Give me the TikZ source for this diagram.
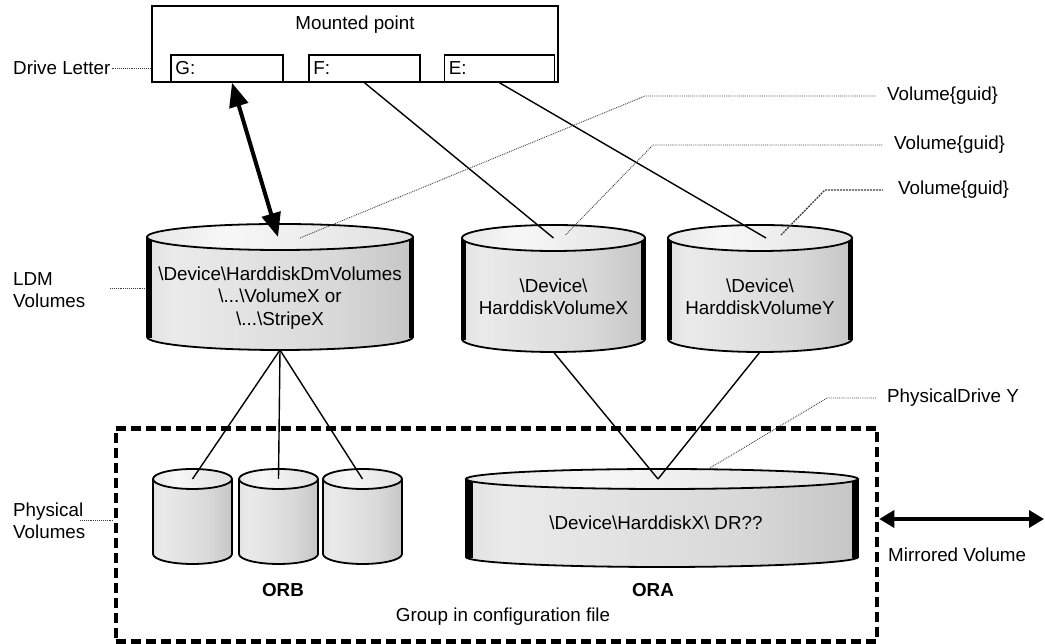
\documentclass[tikz,border=0pt]{standalone}
\usepackage{fontspec}
\setmainfont{Liberation Sans}
\usetikzlibrary{arrows.meta}
\pgfdeclarehorizontalshading{cylbody}{100bp}{color(0bp)=(gray!62); color(30bp)=(gray!16); color(60bp)=(gray!30); color(100bp)=(gray!70)}
\pgfdeclarehorizontalshading{cyltop}{100bp}{color(0bp)=(gray!40); color(40bp)=(gray!6); color(100bp)=(gray!38)}
% #1 name, #2 cx, #3 top-centre y, #4 bottom-centre y, #5 rx, #6 ry, #7 side band width
\newcommand{\drawcyl}[7]{%
  \shade[shading=cylbody] (#2-#5,#3) -- (#2-#5,#4) arc[start angle=180,end angle=360,x radius=#5,y radius=#6] -- (#2+#5,#3) -- cycle;
  \ifdim#7pt>0pt
    \draw[line width=#7pt] (#2-#5+#7/2-0.5,#3) -- (#2-#5+#7/2-0.5,#4-1);
    \draw[line width=#7pt] (#2+#5-#7/2+0.5,#3) -- (#2+#5-#7/2+0.5,#4-1);
  \fi
  \draw[line width=1.8pt] (#2-#5,#3) -- (#2-#5,#4) arc[start angle=180,end angle=360,x radius=#5,y radius=#6] -- (#2+#5,#3);
  \shadedraw[shading=cyltop,line width=1.8pt] (#2,#3) ellipse[x radius=#5,y radius=#6];
  \coordinate (#1-top) at (#2,#3);
  \coordinate (#1-bot) at (#2,#4-#6);
}
\tikzset{
  every node/.style={font=\fontsize{18.8}{22.5}\selectfont, text=black},
  box/.style={draw, line width=1.5pt, inner sep=0pt},
  conn/.style={line width=1.4pt},
  lead/.style={densely dotted, line width=0.9pt, black!75},
  lbl/.style={anchor=west, inner sep=1pt},
  grpbox/.style={draw, line width=4.5pt, dash pattern=on 10pt off 5pt, inner sep=0pt},
  bigarrow/.style={line width=4pt, {Triangle[length=24pt,width=19pt]}-{Triangle[length=24pt,width=19pt]}},
  mirarrow/.style={line width=3.5pt, {Triangle[length=15pt,width=17pt]}-{Triangle[length=15pt,width=17pt]}},
}
\begin{document}
\begin{tikzpicture}[x=1pt,y=1pt]
\useasboundingbox (0,0) rectangle (1045,644);
\fill[white] (0,0) rectangle (1045,644);

% group box
\node[grpbox, minimum width=761pt, minimum height=213pt] (grp) at (496.5,109) {};

% mounted point box
\node[box, minimum width=406pt, minimum height=76pt] (mp) at (355,600) {};
\node (mptxt) at (355,619) {Mounted point};
\node[box, minimum width=112pt, minimum height=27pt] (G) at (227,575.5) {};
\node[box, minimum width=111pt, minimum height=27pt] (F) at (364.5,575.5) {};
\node[box, minimum width=110pt, minimum height=27pt] (E) at (499.5,575.5) {};
\node[lbl] (Gt) at ([xshift=4pt]G.west) {G:};
\node[lbl] (Ft) at ([xshift=4pt]F.west) {F:};
\node[lbl] (Et) at ([xshift=4pt]E.west) {E:};

% left labels
\node[lbl] (dl) at (12,576) {Drive Letter};
\draw[lead] (dl.east) -- (mp.west |- dl.east);
\node[lbl, align=left] (ldm) at (12,354) {LDM\\Volumes};
\draw[lead] (110,356) coordinate (ldmA) -- (147,356) coordinate (ldmB);
\node[lbl, align=left] (pv) at (12,123) {Physical\\Volumes};
\draw[lead] (80,124) coordinate (pvA) -- (grp.west |- pvA);

% cylinders
\drawcyl{ldm}{280}{407}{307}{133}{13}{5}
\drawcyl{hx}{553.5}{406}{305}{91.5}{13}{4.5}
\drawcyl{hy}{760}{406}{305}{92}{13}{4.5}
\drawcyl{p1}{192.5}{165}{90}{39.5}{10}{0}
\drawcyl{p2}{278.5}{165}{90}{39.5}{10}{0}
\drawcyl{p3}{362.5}{165}{90}{39.5}{10}{0}
\drawcyl{ora}{662}{165}{87}{196}{10}{7}

% cylinder texts
\node[align=center] (ldmtxt) at (280,346) {\textbackslash Device\textbackslash HarddiskDmVolumes\\\textbackslash...\textbackslash VolumeX or\\\textbackslash...\textbackslash StripeX};
\node[align=center] (hxtxt) at (553.5,347) {\textbackslash Device\textbackslash\\HarddiskVolumeX};
\node[align=center] (hytxt) at (760,347) {\textbackslash Device\textbackslash\\HarddiskVolumeY};
\node (oratxt) at (656,121) {\textbackslash Device\textbackslash HarddiskX\textbackslash\ DR??};
\node[font=\fontsize{18.8}{22.5}\selectfont\bfseries] (orb) at (283,54) {ORB};
\node[font=\fontsize{18.8}{22.5}\selectfont\bfseries] (ora) at (653,54) {ORA};
\node (grptxt) at (503,27) {Group in configuration file};

% connectors
\draw[bigarrow] ([xshift=5pt]G.south) -- ([xshift=-2pt]ldm-top);
\draw[conn] (F.south) -- (hx-top);
\draw[conn] (E.south) -- ([xshift=6pt]hy-top);
\draw[conn] (ldm-bot) -- (p1-top);
\draw[conn] (ldm-bot) -- (p2-top);
\draw[conn] (ldm-bot) -- (p3-top);
\draw[conn] (hx-bot) -- ([xshift=-4pt]ora-top);
\draw[conn] (hy-bot) -- ([xshift=-4pt]ora-top);

% leader labels
\node[lbl] (vg1) at (886,548) {Volume\{guid\}};
\node[lbl] (vg2) at (893,499) {Volume\{guid\}};
\node[lbl] (vg3) at (897,454) {Volume\{guid\}};
\node[lbl] (pdy) at (886,246) {PhysicalDrive Y};
\draw[lead] ([xshift=20pt,yshift=-1pt]ldm-top) -- (645,548) -- ([xshift=-11pt]vg1.west);
\draw[lead] ([xshift=12pt,yshift=3pt]hx-top) -- (653,499) -- ([xshift=-10pt]vg2.west);
\draw[lead, line width=1.3pt, dash pattern=on 2pt off 1pt] ([xshift=21pt,yshift=3pt]hy-top) -- (825,454) -- ([xshift=-14pt]vg3.west);
\draw[lead] ([xshift=48pt,yshift=11pt]ora-top) -- (827,246) -- ([xshift=-9pt]pdy.west);

% mirrored volume
\coordinate (mirR) at (1044,125);
\draw[mirarrow] (grp.east |- mirR) -- (mirR);
\node[lbl] (mir) at (887,89) {Mirrored Volume};
\end{tikzpicture}
\end{document}
